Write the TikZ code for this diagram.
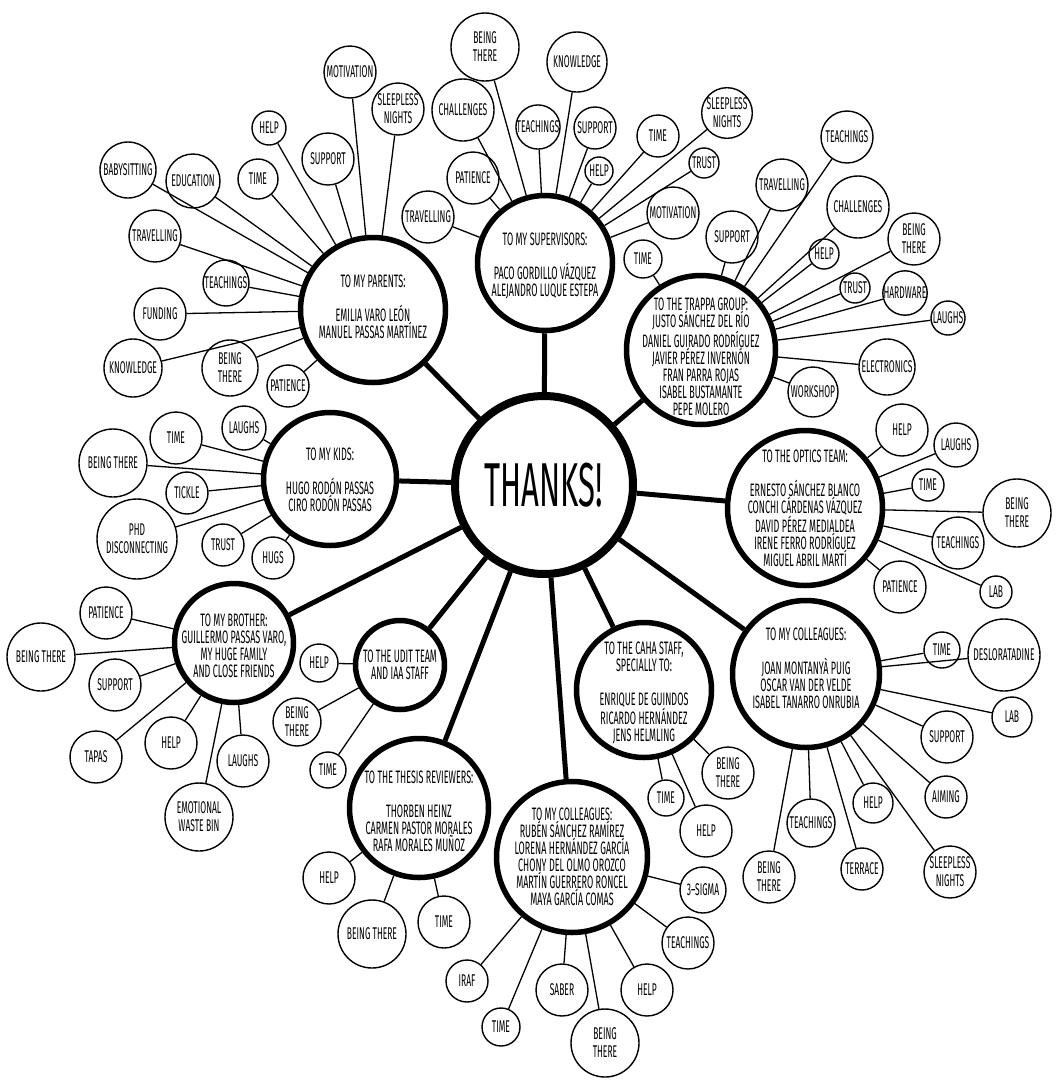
\documentclass[tikz,border=0pt]{standalone}
\usepackage{fontspec}
\setmainfont{Fira Sans}[FakeStretch=0.5]
\usepackage{tikz}

\begin{document}
\begin{tikzpicture}[x=1pt, y=-1pt,
    hubnode/.style={circle, draw, line width=8pt, minimum size=178pt, inner sep=0pt, font=\fontsize{62}{64}\selectfont},
    grp/.style={circle, draw, line width=5.5pt, inner sep=0pt},
    grptxt/.style={align=center, inner sep=0pt, font=\fontsize{18}{17}\selectfont},
    itm/.style={circle, draw, line width=1.4pt, inner sep=0pt, align=center, font=\fontsize{17}{18}\selectfont},
    hubline/.style={line width=5pt},
    itmline/.style={line width=1.3pt}
]
    \useasboundingbox (0,0) rectangle (1058,1080);

    \node[hubnode] (hub) at (544,485) {THANKS!};

    % Groups
    \node[grp, minimum size=145] (par) at (373,310) {};
    \node[grptxt] (partxt) at (373,307) {TO MY PARENTS:\\[17pt]EMILIA VARO LEÓN\\MANUEL PASSAS MARTÍNEZ};
    \node[grp, minimum size=135] (sup) at (545,263) {};
    \node[grptxt] (suptxt) at (545,266) {TO MY SUPERVISORS:\\[17pt]PACO GORDILLO VÁZQUEZ\\ALEJANDRO LUQUE ESTEPA};
    \node[grp, minimum size=149] (trp) at (701,350) {};
    \node[grptxt] (trptxt) at (701,357) {TO THE TRAPPA GROUP:\\JUSTO SÁNCHEZ DEL RÍO\\DANIEL GUIRADO RODRÍGUEZ\\JAVIER PÉREZ INVERNÓN\\FRAN PARRA ROJAS\\ISABEL BUSTAMANTE\\PEPE MOLERO};
    \node[grp, minimum size=155] (opt) at (805,508) {};
    \node[grptxt] (opttxt) at (805,508) {TO THE OPTICS TEAM:\\[17pt]ERNESTO SÁNCHEZ BLANCO\\CONCHI CÁRDENAS VÁZQUEZ\\DAVID PÉREZ MEDIALDEA\\IRENE FERRO RODRÍGUEZ\\MIGUEL ABRIL MARTÍ};
    \node[grp, minimum size=147] (colr) at (806,674) {};
    \node[grptxt] (colrtxt) at (806,668) {TO MY COLLEAGUES:\\[17pt]JOAN MONTANYÀ PUIG\\OSCAR VAN DER VELDE\\ISABEL TANARRO ONRUBIA};
    \node[grp, minimum size=135] (caha) at (644,690) {};
    \node[grptxt] (cahatxt) at (644,693) {TO THE CAHA STAFF,\\SPECIALLY TO:\\[17pt]ENRIQUE DE GUINDOS\\RICARDO HERNÁNDEZ\\JENS HELMLING};
    \node[grp, minimum size=151] (colb) at (572,857) {};
    \node[grptxt] (colbtxt) at (572,857) {TO MY COLLEAGUES:\\RUBÉN SÁNCHEZ RAMÍREZ\\LORENA HERNÁNDEZ GARCÍA\\CHONY DEL OLMO OROZCO\\MARTÍN GUERRERO RONCEL\\MAYA GARCÍA COMAS};
    \node[grp, minimum size=139] (thes) at (419,808) {};
    \node[grptxt] (thestxt) at (419,811) {TO THE THESIS REVIEWERS:\\[17pt]THORBEN HEINZ\\CARMEN PASTOR MORALES\\RAFA MORALES MUÑOZ};
    \node[grp, minimum size=89] (udit) at (400,665) {};
    \node[grptxt] (udittxt) at (400,665) {TO THE UDIT TEAM\\AND IAA STAFF};
    \node[grp, minimum size=119] (bro) at (234,643) {};
    \node[grptxt] (brotxt) at (234,646) {TO MY BROTHER:\\GUILLERMO PASSAS VARO,\\MY HUGE FAMILY\\AND CLOSE FRIENDS};
    \node[grp, minimum size=133] (kids) at (330,479) {};
    \node[grptxt] (kidstxt) at (330,480) {TO MY KIDS:\\[17pt]HUGO RODÓN PASSAS\\CIRO RODÓN PASSAS};

    \draw[hubline] (hub) -- (par);
    \draw[hubline] (hub) -- (sup);
    \draw[hubline] (hub) -- (trp);
    \draw[hubline] (hub) -- (opt);
    \draw[hubline] (hub) -- (colr);
    \draw[hubline] (hub) -- (caha);
    \draw[hubline] (hub) -- (colb);
    \draw[hubline] (hub) -- (thes);
    \draw[hubline] (hub) -- (udit);
    \draw[hubline] (hub) -- (bro);
    \draw[hubline] (hub) -- (kids);

    % Parents
    \node[itm, minimum size=52] (par1) at (350,72) {MOTIVATION};
    \node[itm, minimum size=52] (par2) at (398,109) {SLEEPLESS\\NIGHTS};
    \node[itm, minimum size=52] (par3) at (328,159) {SUPPORT};
    \node[itm, minimum size=34] (par4) at (269,128) {HELP};
    \node[itm, minimum size=40] (par5) at (258,179) {TIME};
    \node[itm, minimum size=54] (par6) at (193,181) {EDUCATION};
    \node[itm, minimum size=56] (par7) at (128,170) {BABYSITTING};
    \node[itm, minimum size=52] (par8) at (155,236) {TRAVELLING};
    \node[itm, minimum size=46] (par9) at (226,283) {TEACHINGS};
    \node[itm, minimum size=52] (par10) at (160,314) {FUNDING};
    \node[itm, minimum size=58] (par11) at (133,368) {KNOWLEDGE};
    \node[itm, minimum size=56] (par12) at (230,368) {BEING\\THERE};
    \node[itm, minimum size=42] (par13) at (288,386) {PATIENCE};
    \draw[itmline] (par) -- (par1);
    \draw[itmline] (par) -- (par2);
    \draw[itmline] (par) -- (par3);
    \draw[itmline] (par) -- (par4);
    \draw[itmline] (par) -- (par5);
    \draw[itmline] (par) -- (par6);
    \draw[itmline] (par) -- (par7);
    \draw[itmline] (par) -- (par8);
    \draw[itmline] (par) -- (par9);
    \draw[itmline] (par) -- (par10);
    \draw[itmline] (par) -- (par11);
    \draw[itmline] (par) -- (par12);
    \draw[itmline] (par) -- (par13);

    % Supervisors
    \node[itm, minimum size=68] (sup1) at (485,47) {BEING\\THERE};
    \node[itm, minimum size=60] (sup2) at (577,62) {KNOWLEDGE};
    \node[itm, minimum size=62] (sup3) at (463,110) {CHALLENGES};
    \node[itm, minimum size=44] (sup4) at (538,127) {TEACHINGS};
    \node[itm, minimum size=42] (sup5) at (595,128) {SUPPORT};
    \node[itm, minimum size=28] (sup6) at (599,171) {HELP};
    \node[itm, minimum size=42] (sup7) at (658,136) {TIME};
    \node[itm, minimum size=50] (sup8) at (727,113) {SLEEPLESS\\NIGHTS};
    \node[itm, minimum size=30] (sup9) at (704,163) {TRUST};
    \node[itm, minimum size=52] (sup10) at (473,178) {PATIENCE};
    \node[itm, minimum size=52] (sup11) at (428,217) {TRAVELLING};
    \node[itm, minimum size=52] (sup12) at (673,213) {MOTIVATION};
    \draw[itmline] (sup) -- (sup1);
    \draw[itmline] (sup) -- (sup2);
    \draw[itmline] (sup) -- (sup3);
    \draw[itmline] (sup) -- (sup4);
    \draw[itmline] (sup) -- (sup5);
    \draw[itmline] (sup) -- (sup6);
    \draw[itmline] (sup) -- (sup7);
    \draw[itmline] (sup) -- (sup8);
    \draw[itmline] (sup) -- (sup9);
    \draw[itmline] (sup) -- (sup10);
    \draw[itmline] (sup) -- (sup11);
    \draw[itmline] (sup) -- (sup12);

    % Trappa group
    \node[itm, minimum size=38] (trp1) at (643,259) {TIME};
    \node[itm, minimum size=52] (trp2) at (732,237) {SUPPORT};
    \node[itm, minimum size=52] (trp3) at (782,185) {TRAVELLING};
    \node[itm, minimum size=52] (trp4) at (847,137) {TEACHINGS};
    \node[itm, minimum size=62] (trp5) at (858,207) {CHALLENGES};
    \node[itm, minimum size=30] (trp6) at (824,254) {HELP};
    \node[itm, minimum size=52] (trp7) at (914,239) {BEING\\THERE};
    \node[itm, minimum size=30] (trp8) at (855,288) {TRUST};
    \node[itm, minimum size=44] (trp9) at (905,293) {HARDWARE};
    \node[itm, minimum size=34] (trp10) at (948,318) {LAUGHS};
    \node[itm, minimum size=56] (trp11) at (887,367) {ELECTRONICS};
    \node[itm, minimum size=50] (trp12) at (813,392) {WORKSHOP};
    \draw[itmline] (trp) -- (trp1);
    \draw[itmline] (trp) -- (trp2);
    \draw[itmline] (trp) -- (trp3);
    \draw[itmline] (trp) -- (trp4);
    \draw[itmline] (trp) -- (trp5);
    \draw[itmline] (trp) -- (trp6);
    \draw[itmline] (trp) -- (trp7);
    \draw[itmline] (trp) -- (trp8);
    \draw[itmline] (trp) -- (trp9);
    \draw[itmline] (trp) -- (trp10);
    \draw[itmline] (trp) -- (trp11);
    \draw[itmline] (trp) -- (trp12);

    % Optics team
    \node[itm, minimum size=52] (opt1) at (902,430) {HELP};
    \node[itm, minimum size=44] (opt2) at (956,445) {LAUGHS};
    \node[itm, minimum size=32] (opt3) at (928,485) {TIME};
    \node[itm, minimum size=68] (opt4) at (1017,513) {BEING\\THERE};
    \node[itm, minimum size=52] (opt5) at (958,543) {TEACHINGS};
    \node[itm, minimum size=52] (opt6) at (900,587) {PATIENCE};
    \node[itm, minimum size=32] (opt7) at (996,592) {LAB};
    \draw[itmline] (opt) -- (opt1);
    \draw[itmline] (opt) -- (opt2);
    \draw[itmline] (opt) -- (opt3);
    \draw[itmline] (opt) -- (opt4);
    \draw[itmline] (opt) -- (opt5);
    \draw[itmline] (opt) -- (opt6);
    \draw[itmline] (opt) -- (opt7);

    % Colleagues (right)
    \node[itm, minimum size=36] (colr1) at (942,650) {TIME};
    \node[itm, minimum size=72] (colr2) at (1004,655) {DESLORATADINE};
    \node[itm, minimum size=40] (colr3) at (1012,717) {LAB};
    \node[itm, minimum size=52] (colr4) at (947,737) {SUPPORT};
    \node[itm, minimum size=42] (colr5) at (946,797) {AIMING};
    \node[itm, minimum size=52] (colr6) at (950,872) {SLEEPLESS\\NIGHTS};
    \node[itm, minimum size=40] (colr7) at (873,803) {HELP};
    \node[itm, minimum size=42] (colr8) at (862,869) {TERRACE};
    \node[itm, minimum size=48] (colr9) at (811,823) {TEACHINGS};
    \node[itm, minimum size=52] (colr10) at (769,877) {BEING\\THERE};
    \draw[itmline] (colr) -- (colr1);
    \draw[itmline] (colr) -- (colr2);
    \draw[itmline] (colr) -- (colr3);
    \draw[itmline] (colr) -- (colr4);
    \draw[itmline] (colr) -- (colr5);
    \draw[itmline] (colr) -- (colr6);
    \draw[itmline] (colr) -- (colr7);
    \draw[itmline] (colr) -- (colr8);
    \draw[itmline] (colr) -- (colr9);
    \draw[itmline] (colr) -- (colr10);

    % CAHA staff
    \node[itm, minimum size=52] (caha1) at (728,773) {BEING\\THERE};
    \node[itm, minimum size=36] (caha2) at (666,798) {TIME};
    \node[itm, minimum size=52] (caha3) at (706,831) {HELP};
    \draw[itmline] (caha) -- (caha1);
    \draw[itmline] (caha) -- (caha2);
    \draw[itmline] (caha) -- (caha3);

    % Colleagues (bottom)
    \node[itm, minimum size=46] (colb1) at (703,890) {3–SIGMA};
    \node[itm, minimum size=52] (colb2) at (688,943) {TEACHINGS};
    \node[itm, minimum size=52] (colb3) at (647,990) {HELP};
    \node[itm, minimum size=68] (colb4) at (605,1043) {BEING\\THERE};
    \node[itm, minimum size=52] (colb5) at (562,990) {SABER};
    \node[itm, minimum size=38] (colb6) at (501,1027) {TIME};
    \node[itm, minimum size=42] (colb7) at (467,981) {IRAF};
    \draw[itmline] (colb) -- (colb1);
    \draw[itmline] (colb) -- (colb2);
    \draw[itmline] (colb) -- (colb3);
    \draw[itmline] (colb) -- (colb4);
    \draw[itmline] (colb) -- (colb5);
    \draw[itmline] (colb) -- (colb6);
    \draw[itmline] (colb) -- (colb7);

    % Thesis reviewers
    \node[itm, minimum size=52] (thes1) at (329,878) {HELP};
    \node[itm, minimum size=68] (thes2) at (372,934) {BEING THERE};
    \node[itm, minimum size=52] (thes3) at (444,922) {TIME};
    \draw[itmline] (thes) -- (thes1);
    \draw[itmline] (thes) -- (thes2);
    \draw[itmline] (thes) -- (thes3);

    % UDIT team
    \node[itm, minimum size=38] (udit1) at (319,663) {HELP};
    \node[itm, minimum size=48] (udit2) at (297,722) {BEING\\THERE};
    \node[itm, minimum size=36] (udit3) at (328,770) {TIME};
    \draw[itmline] (udit) -- (udit1);
    \draw[itmline] (udit) -- (udit2);
    \draw[itmline] (udit) -- (udit3);

    % Kids
    \node[itm, minimum size=44] (kids1) at (244,428) {LAUGHS};
    \node[itm, minimum size=52] (kids2) at (176,438) {TIME};
    \node[itm, minimum size=68] (kids3) at (113,463) {BEING THERE};
    \node[itm, minimum size=42] (kids4) at (187,493) {TICKLE};
    \node[itm, minimum size=80] (kids5) at (137,539) {PHD\\DISCONNECTING};
    \node[itm, minimum size=42] (kids6) at (223,545) {TRUST};
    \node[itm, minimum size=42] (kids7) at (273,558) {HUGS};
    \draw[itmline] (kids) -- (kids1);
    \draw[itmline] (kids) -- (kids2);
    \draw[itmline] (kids) -- (kids3);
    \draw[itmline] (kids) -- (kids4);
    \draw[itmline] (kids) -- (kids5);
    \draw[itmline] (kids) -- (kids6);
    \draw[itmline] (kids) -- (kids7);

    % Brother, family and friends
    \node[itm, minimum size=52] (bro1) at (106,613) {PATIENCE};
    \node[itm, minimum size=68] (bro2) at (41,657) {BEING THERE};
    \node[itm, minimum size=52] (bro3) at (115,685) {SUPPORT};
    \node[itm, minimum size=52] (bro4) at (96,757) {TAPAS};
    \node[itm, minimum size=52] (bro5) at (171,743) {HELP};
    \node[itm, minimum size=68] (bro6) at (199,817) {EMOTIONAL\\WASTE BIN};
    \node[itm, minimum size=52] (bro7) at (243,761) {LAUGHS};
    \draw[itmline] (bro) -- (bro1);
    \draw[itmline] (bro) -- (bro2);
    \draw[itmline] (bro) -- (bro3);
    \draw[itmline] (bro) -- (bro4);
    \draw[itmline] (bro) -- (bro5);
    \draw[itmline] (bro) -- (bro6);
    \draw[itmline] (bro) -- (bro7);
\end{tikzpicture}
\end{document}
